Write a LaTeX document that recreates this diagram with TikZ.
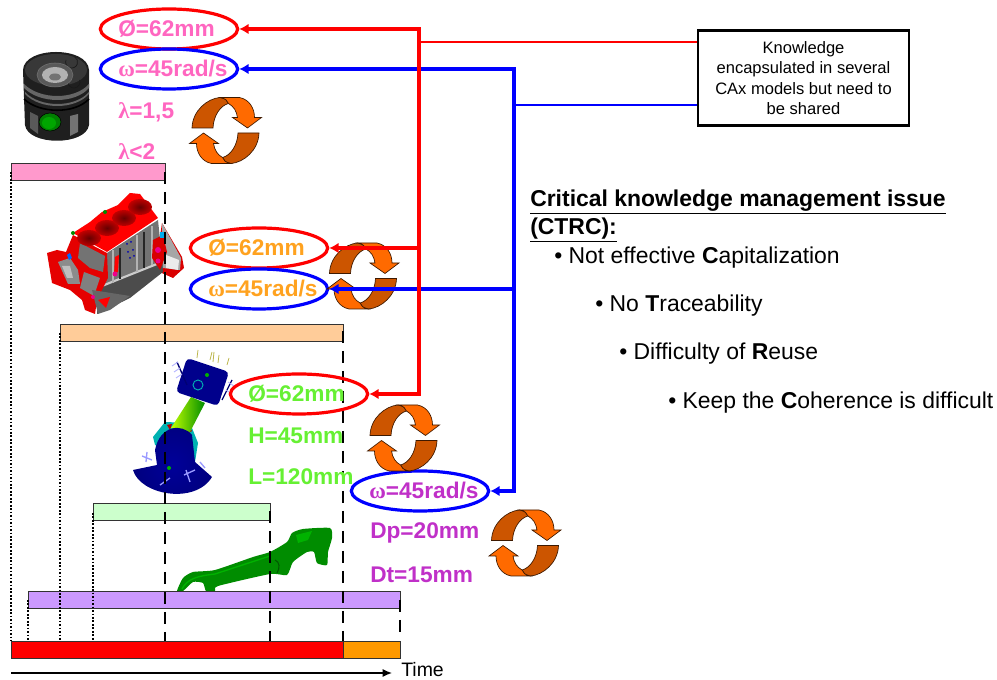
\documentclass[tikz,border=0pt]{standalone}
\usepackage{fontspec}
\setmainfont{Liberation Sans}
\newfontfamily\symf{Liberation Serif}
\usetikzlibrary{arrows.meta,shapes.geometric}
\definecolor{pinkt}{HTML}{FF66C0}
\definecolor{oranget}{HTML}{FFA21F}
\definecolor{greent}{HTML}{66F033}
\definecolor{purpt}{HTML}{C030C8}
\definecolor{cdark}{HTML}{CC5500}
\definecolor{clight}{HTML}{FF6A00}
\newcommand{\om}{{\symf\bfseries ω}}
\newcommand{\lam}{{\symf\bfseries λ}}
\newcommand{\eltext}[1]{\makebox[0pt][l]{\hspace{-38pt}#1}}
\tikzset{
  param/.style={font=\fontsize{17}{19}\selectfont\bfseries,inner sep=0pt},
  redel/.style={ellipse,draw=red,line width=2.4pt,minimum width=103pt,minimum height=30pt,param},
  blueel/.style={ellipse,draw=blue,line width=2.4pt,minimum width=103pt,minimum height=30pt,param},
  leftparam/.style={param,anchor=west},
  bar/.style={draw=black!80,line width=0.7pt},
  dashl/.style={black,line width=2pt,dash pattern=on 9pt off 6pt},
  dotl/.style={black,line width=1.4pt,dash pattern=on 1.3pt off 1.3pt},
  redline/.style={red,line width=2.5pt},
  blueline/.style={blue,line width=2.5pt},
  redthin/.style={red,line width=1.8pt},
  bluethin/.style={blue,line width=1.8pt},
  arrowtip/.style={-{Latex[length=7pt,width=8pt]}},
  bul/.style={anchor=west,inner sep=0pt,font=\fontsize{17.2}{19}\selectfont},
  cycarrow/.pic={
    \foreach \r in {0,180}{
      \begin{scope}[rotate=\r]
      \draw[draw=black!70!cdark,line width=0.5pt,fill=cdark]
        (-33.5,-2.5) .. controls (-33,-20) and (-18,-32) .. (-5.5,-33)
        .. controls (0,-32) and (2,-30) .. (3,-27)
        .. controls (-5,-25) and (-12,-15) .. (-12.5,-2.5) -- cycle;
      \draw[draw=black!70!cdark,line width=0.5pt,fill=clight]
        (-5.5,-33) -- (14,-33) .. controls (24,-31) and (29,-22) .. (29,-13)
        -- (36,-13) -- (22,-2.5) -- (7,-13) -- (12,-13)
        .. controls (11,-20) and (8,-24) .. (3,-27)
        .. controls (2,-30) and (0,-32) .. (-5.5,-33) -- cycle;
      \end{scope}
    }
  }
}
\begin{document}
\begin{tikzpicture}[x=0.75pt,y=-0.75pt]
\useasboundingbox (0,0) rectangle (997,680);
% piston
\fill[black!88] (23,70) .. controls (24,46) and (88,46) .. (89,70) -- (89,125) .. controls (86,146) and (28,146) .. (25,125) -- cycle;
\fill[black!60] (24,84) .. controls (40,100) and (75,100) .. (89,84) -- (89,88) .. controls (75,104) and (40,104) .. (24,88) -- cycle;
\fill[black!60] (25,92) .. controls (40,108) and (75,108) .. (89,92) -- (89,94) .. controls (75,110) and (40,110) .. (25,94) -- cycle;
\fill[black!65] (30,112) -- (38,116) -- (38,134) -- (30,128) -- cycle;
\fill[black!55] (70,116) -- (78,114) -- (78,132) -- (70,136) -- cycle;
\draw[black,line width=1.2pt] (24,99) .. controls (40,114) and (75,114) .. (89,99);
\fill[black!78] (56,70) ellipse [x radius=31,y radius=16];
\draw[black!90,line width=.5pt] (66,60) arc [start angle=200,end angle=-60,radius=6];
\draw[black!90,line width=.5pt] (68,82) arc [start angle=180,end angle=-20,radius=6];
\filldraw[draw=black!55,fill=black!65] (55,75) ellipse [x radius=18,y radius=12];
\fill[black!30] (55,75) ellipse [x radius=13,y radius=8];
\fill[black!55] (55,77) ellipse [x radius=6,y radius=3.5];
\filldraw[draw=black,fill=green!50!black] (50,122) ellipse [x radius=11,y radius=9];
\fill[green!65!black] (49,123) ellipse [x radius=7,y radius=6];
% engine block
\fill[red!85!black] (162,223) -- (182,257) -- (184,268) -- (173,278) -- (155,270) -- cycle;
\fill[black!35] (162,223) -- (181,258) -- (180,270) -- (163,268) -- cycle;
\fill[black!8] (166,255) -- (179,260) -- (178,270) -- (166,268) -- cycle;
\fill[black!55] (107,253) -- (158,220) -- (163,268) -- (97,308) -- cycle;
\fill[black!70] (97,288) -- (162,262) -- (163,272) -- (130,298) -- (97,314) -- cycle;
\draw[black!20,line width=1.6pt] (97,288) -- (162,262);
\draw[black!30,line width=1pt] (113,250) -- (113,283) (137,235) -- (137,272) (152,226) -- (152,265);
\draw[black!85,line width=1pt] (120,248) -- (120,279) (144,232) -- (144,268);
\fill[red] (115,257) -- (119,255) -- (118,272) -- (114,274) -- cycle;
\fill[red!85!black] (153,240) -- (163,235) -- (167,252) -- (160,270) -- (152,258) -- cycle;
\foreach \a/\b in {127/244,131/242,133/250,128/252,130/258,134/256}{\fill[blue!70!black] (\a,\b) circle [radius=1];}
% left cover and lower skirt
\fill[red!90!black] (47,253) -- (57,250) -- (66,252) -- (73,235) -- (107,253) -- (108,278) -- (97,300) -- (95,314) -- (85,310) -- (82,300) -- (70,290) -- (52,283) -- cycle;
\fill[black!45] (58,262) -- (70,258) -- (78,270) -- (80,284) -- (68,284) -- cycle;
\fill[white!75!black] (62,266) -- (70,266) -- (73,278) -- (67,278) -- cycle;
\fill[black!55] (80,243) -- (105,256) -- (103,272) -- (90,268) -- (78,258) -- cycle;
\fill[black!50] (84,272) -- (100,278) -- (94,296) -- (80,288) -- cycle;
\fill[blue!60!cyan] (67,255) -- (70,253) -- (72,258) -- (69,260) -- cycle;
\fill[black!60] (92,290) -- (130,296) -- (110,310) -- (98,314) -- cycle;
\fill[red] (98,300) -- (110,297) -- (106,308) -- cycle;
% deck
\fill[red] (73,233) -- (90,222) -- (102,212) -- (118,205) -- (130,193) -- (140,194) -- (158,218) -- (107,252) -- cycle;
\foreach \p in {(89,238),(107,228),(124,218),(140,207)}{
  \shade[inner color=red!40!black,outer color=red!75!black] \p ellipse [x radius=12,y radius=8];
}
\fill[green!55!black] (73,233) circle [radius=2];
\fill[green!55!black] (105,212) circle [radius=2];
\fill[cyan] (160,232) rectangle (165,238);
\fill[magenta] (158,250) circle [radius=3];
\fill[magenta] (158,261) circle [radius=2.5];
\fill[magenta] (115,274) circle [radius=2.5];
\fill[magenta] (93,297) circle [radius=2];
% connecting rod FEA
\fill[teal!60!cyan] (153,437) -- (165,422) -- (190,423) -- (198,443) -- (195,462) -- (155,445) -- cycle;
\fill[red!70!black] (167,425) -- (172,424) -- (170,430) -- cycle;
\fill[red!70!black] (188,427) -- (192,431) -- (187,434) -- cycle;
\shade[left color=yellow!75!green,right color=green!55!black] (191,397) -- (205,403) -- (190,432) -- (171,428) -- cycle;
\shade[inner color=blue!60!black,outer color=blue!50!black] (133,470) .. controls (140,495) and (195,505) .. (212,477) -- (195,462) -- (192,435) .. controls (182,423) and (160,425) .. (155,450) -- (157,465) -- cycle;
\fill[blue!55!black,rounded corners=3pt] (187,358) -- (229,372) -- (218,406) -- (176,392) -- cycle;
\fill[green!70!black] (207,375) circle [radius=2];
\fill[green!70!black] (169,468) circle [radius=2];
\draw[teal!60!cyan,line width=.7pt] (198,385) circle [radius=5];
\draw[blue!45!black,line width=1pt] (177,362) -- (187,385) (232,380) -- (222,400);
\draw[blue!30!white,line width=.7pt] (178,362) -- (172,366) (180,368) -- (174,372) (182,374) -- (176,378) (228,382) -- (234,386) (226,390) -- (232,394);
\draw[blue!40!white,line width=1pt] (142,456) -- (152,460) (147,452) -- (146,462) (195,470) -- (184,475) (186,470) -- (190,482) (160,485) -- (170,478) (200,462) -- (205,468);
\draw[olive!60,line width=.6pt] (198,350) -- (197,358) (212,352) -- (210,360) (214,352) -- (213,362) (219,355) -- (218,363) (229,358) -- (227,365);
% green part
\fill[green!55!black] plot[smooth cycle,tension=.35] coordinates {(177,591) (183,578) (193,572) (215,570) (253,557) (270,552) (287,542) (292,533) (303,529) (330,528) (332,538) (328,552) (327,565) (317,563) (314,552) (307,552) (293,562) (287,575) (270,574) (218,586) (215,591) (206,591) (203,583) (193,582) (183,591)};
\draw[green!70!black,line width=1pt] (182,589) .. controls (187,579) and (197,576) .. (215,574) -- (270,556);
\fill[green!70!black] (296,535) -- (312,531) -- (308,540) -- (298,543) -- cycle;
\draw[green!35!black,line width=.8pt] (275,560) .. controls (280,562) and (280,568) .. (277,573);
% bars
\filldraw[bar,fill={rgb,255:red,255;green,153;blue,204}] (11,163) rectangle (165,180);
\coordinate (pinkL) at (11,172); \coordinate (pinkR) at (165,172);
\filldraw[bar,fill={rgb,255:red,255;green,204;blue,153}] (60,324) rectangle (343,341);
\coordinate (peachL) at (60,333); \coordinate (peachR) at (343,331);
\filldraw[bar,fill={rgb,255:red,204;green,255;blue,204}] (93,503) rectangle (270,520);
\coordinate (grL) at (93,513); \coordinate (grR) at (270,511);
\filldraw[bar,fill={rgb,255:red,204;green,153;blue,255}] (28,591) rectangle (400,608);
\coordinate (puL) at (28,600); \coordinate (puR) at (400,600);
\filldraw[bar,fill=red] (11,641) rectangle (343,658);
\filldraw[bar,fill={rgb,255:red,255;green,153;blue,0}] (343,641) rectangle (400,658);
% guide lines
\draw[dotl] (pinkL) -- (11,641);
\draw[dotl] (peachL) -- (60,641);
\draw[dotl] (grL) -- (93,641);
\draw[dotl] (puL) -- (28,641);
\draw[dashl] (pinkR) -- (165,641);
\draw[dashl] (peachR) -- (343,641);
\draw[dashl] (grR) -- (270,641);
\draw[dashl] (puR) -- (400,632);
% time axis
\node[anchor=west,inner sep=0pt,font=\fontsize{14.6}{15}\selectfont] (timel) at (401,670) {Time};
\coordinate (t0) at (11,673);
\draw[black,line width=1pt,-{Latex[length=7pt,width=6pt]}] (t0) -- (392,673);
% params
\node[redel,text=pinkt] (e1) at (169,29) {\eltext{Ø=62mm}};
\node[blueel,text=pinkt] (e2) at (169,69) {\eltext{\om=45rad/s}};
\node[leftparam,text=pinkt] (l1) at (118,112) {\lam=1,5};
\node[leftparam,text=pinkt] (l2) at (118,152) {\lam<2};
\node[redel,text=oranget] (e3) at (259,248) {\eltext{Ø=62mm}};
\node[blueel,text=oranget] (e4) at (259,289) {\eltext{\om=45rad/s}};
\node[redel,text=greent] (e5) at (299,394) {\eltext{Ø=62mm}};
\node[leftparam,text=greent] (h) at (248,436) {H=45mm};
\node[leftparam,text=greent] (ll) at (248,477) {L=120mm};
\node[blueel,text=purpt] (e6) at (420,491) {\eltext{\om=45rad/s}};
\node[leftparam,text=purpt] (dp) at (370,533) {Dp=20mm};
\node[leftparam,text=purpt] (dt) at (370,575) {Dt=15mm};
% cycle arrows
\pic at (225.5,130.5) {cycarrow};
\pic at (363,276) {cycarrow};
\pic at (403.5,438) {cycarrow};
\pic at (525,543) {cycarrow};
% box
\node[draw=black,line width=1.8pt,fill=white,minimum width=158pt,minimum height=71pt,inner sep=0pt,align=center,font=\fontsize{12.4}{15.4}\selectfont] (box) at (803.5,78) {Knowledge\\encapsulated in several\\CAx models but need to\\be shared};
% connectors
\coordinate (rj) at (419,42);
\coordinate (bj) at (514,105);
\draw[redthin] (box.west|-rj) -- (rj);
\draw[bluethin] (box.west|-bj) -- (bj);
\draw[blueline,arrowtip] (bj) |- (e2.east);
\draw[blueline,arrowtip] (bj) |- (e4.east);
\draw[blueline,arrowtip] (bj) |- (e6.east);
\draw[redline,arrowtip] (rj) |- (e1.east);
\draw[redline,arrowtip] (rj) |- (e3.east);
\draw[redline,arrowtip] (rj) |- (e5.east);
% right text
\node[anchor=north west,inner sep=0pt,align=left,font=\fontsize{17.2}{21}\selectfont\bfseries] (head) at (530,189.5) {\underline{Critical knowledge management issue}\\\underline{(CTRC):}};
\node[bul] (b1) at (554,258) {• Not effective \textbf{C}apitalization};
\node[bul] (b2) at (595,306) {• No \textbf{T}raceability};
\node[bul] (b3) at (619,354) {• Difficulty of \textbf{R}euse};
\node[bul] (b4) at (668,403) {• Keep the \textbf{C}oherence is difficult};
\end{tikzpicture}
\end{document}
